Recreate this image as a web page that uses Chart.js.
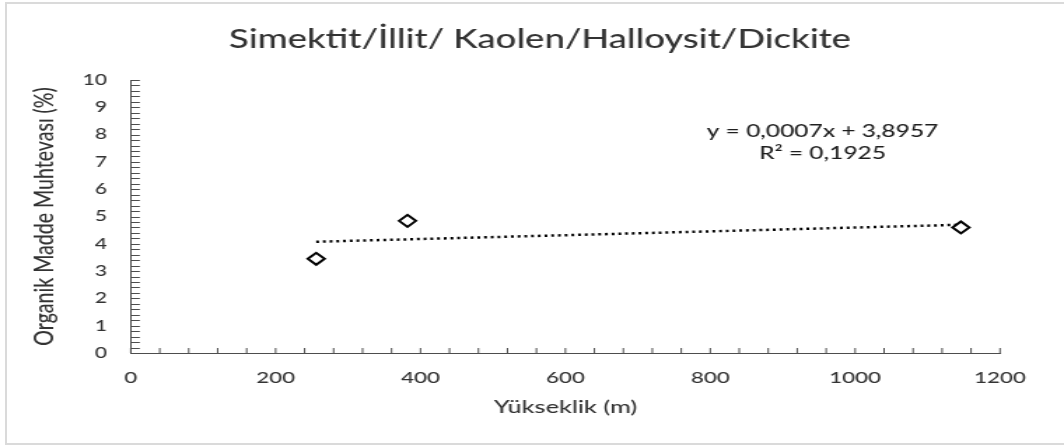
<!DOCTYPE html>
<html>
<head>
<meta charset="utf-8">
<script src="https://cdn.jsdelivr.net/npm/chart.js@4"></script>
<style>
  body { margin: 0; background: #fff; overflow: hidden; }
  /* light grey frame round the chart (top, left, bottom) */
  #frame { position: absolute; left: 5px; top: 2px; width: 1100px; height: 439px;
           border: 2px solid #dadada; border-right: none; }
  /* the source picture is stretched sideways, so we draw narrow and scale */
  #wrap { position: absolute; left: 0; top: 0; width: 760px; height: 446px;
          transform: scaleX(1.4); transform-origin: 0 0; }
</style>
</head>
<body>
<div id="frame"></div>
<div id="wrap"><canvas id="myChart"></canvas></div>
<script>
// Values
const elevation = [256, 382, 1146];          // Yükseklik (m)
const organicMatter = [3.45, 4.84, 4.60];    // Organik Madde Muhtevası (%)

// Trendline from the printed equation y = 0,0007x + 3,8957
const trendSlope = 0.0007;
const trendIntercept = 3.8957;
const trendLabels = ['y = 0,0007x + 3,8957', 'R² = 0,1925'];

const FONT = 'Lato';
const AXIS = '#4d4d4d';
const TEXT = '#333333';

const points = elevation.map((x, i) => ({ x: x, y: organicMatter[i] }));
const xMin = Math.min(...elevation);
const xMax = Math.max(...elevation);
const trend = [
    { x: xMin, y: trendSlope * xMin + trendIntercept },
    { x: xMax, y: trendSlope * xMax + trendIntercept }
];

// small inward tick marks like in Excel
const minorTicks = {
    id: 'minorTicks',
    afterDraw(chart) {
        const ctx = chart.ctx;
        const xs = chart.scales.x;
        const ys = chart.scales.y;
        const area = chart.chartArea;
        ctx.save();
        ctx.strokeStyle = AXIS;
        ctx.lineWidth = 1;
        ctx.beginPath();
        for (let i = 0; i <= 50; i++) {
            const py = Math.round(ys.getPixelForValue(i / 5)) + 0.5;
            ctx.moveTo(area.left, py);
            ctx.lineTo(area.left + 6.5, py);
        }
        for (let i = 0; i <= 30; i++) {
            const px = xs.getPixelForValue(i * 40);
            ctx.moveTo(px, area.bottom);
            ctx.lineTo(px, area.bottom - 5);
        }
        ctx.stroke();
        ctx.restore();
    }
};

// equation and R² text
const trendText = {
    id: 'trendText',
    afterDatasetsDraw(chart) {
        const ctx = chart.ctx;
        const xs = chart.scales.x;
        const ys = chart.scales.y;
        ctx.save();
        ctx.font = '500 17.5px ' + FONT;
        ctx.fillStyle = '#1f1f1f';
        ctx.textAlign = 'center';
        ctx.textBaseline = 'middle';
        ctx.fillText(trendLabels[0], xs.getPixelForValue(955), ys.getPixelForValue(8.13));
        ctx.fillText(trendLabels[1], xs.getPixelForValue(955), ys.getPixelForValue(7.33));
        ctx.restore();
    }
};

new Chart(document.getElementById('myChart'), {
    type: 'scatter',
    data: {
        datasets: [{
            data: points,
            pointStyle: 'rectRot',
            pointRadius: 6,
            pointBorderWidth: 2,
            pointBorderColor: '#000',
            pointBackgroundColor: '#fff'
        }, {
            data: trend,
            showLine: true,
            pointRadius: 0,
            borderColor: '#000',
            borderWidth: 2.5,
            borderDash: [2, 2.8]
        }]
    },
    options: {
        animation: false,
        responsive: true,
        maintainAspectRatio: false,
        layout: { padding: { left: 11.4, right: 0, top: 0, bottom: 0 } },
        plugins: {
            legend: { display: false },
            tooltip: { enabled: false },
            title: {
                display: true,
                text: 'Simektit/İllit/ Kaolen/Halloysit/Dickite',
                color: TEXT,
                font: { family: FONT, size: 26, weight: '500' },
                padding: { top: 24.4, bottom: 24.4 }
            }
        },
        scales: {
            x: {
                type: 'linear',
                min: 0,
                max: 1200,
                afterFit: s => { s.height = 93; },
                grid: { display: false, drawTicks: false },
                border: { display: true, color: AXIS, width: 1 },
                ticks: {
                    stepSize: 200,
                    padding: 15.4,
                    color: TEXT,
                    font: { family: FONT, size: 16, weight: '500' },
                    callback: v => String(v)
                },
                title: {
                    display: true,
                    text: 'Yükseklik (m)',
                    color: TEXT,
                    font: { family: FONT, size: 18, weight: '500' },
                    padding: { top: 0, bottom: 28.2 }
                }
            },
            y: {
                min: 0,
                max: 10,
                afterFit: s => { s.width = 82; },
                grid: { display: false, drawTicks: false },
                border: { display: true, color: AXIS, width: 1 },
                ticks: { stepSize: 1, padding: 17, color: TEXT, font: { family: FONT, size: 15, weight: '500' } },
                title: {
                    display: true,
                    text: 'Organik Madde Muhtevası (%)',
                    color: TEXT,
                    font: { family: FONT, size: 19.5, weight: '500' },
                    padding: { top: 9, bottom: 0 }
                }
            },
            // empty box on the right, keeps the plot's right edge in place
            yRight: {
                position: 'right',
                display: true,
                afterFit: s => { s.width = 45.7; },
                grid: { display: false, drawTicks: false },
                border: { display: false },
                ticks: { display: false }
            }
        }
    },
    plugins: [minorTicks, trendText]
});
</script>
</body>
</html>
